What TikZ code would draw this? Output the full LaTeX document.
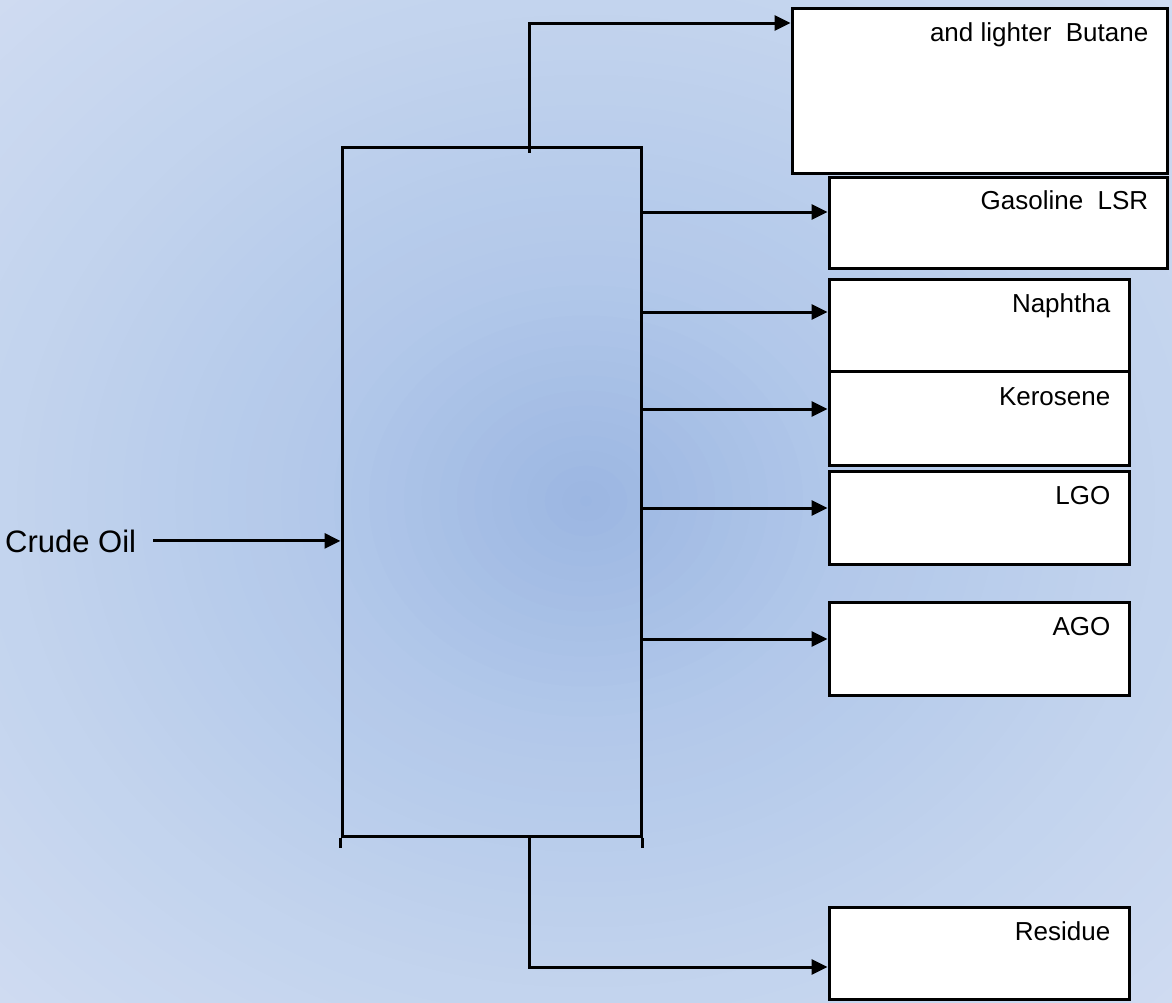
\documentclass[tikz,border=0pt]{standalone}
\usepackage{fontspec}
\setmainfont{Liberation Sans}
\usetikzlibrary{arrows.meta,calc}
\definecolor{bgF}{RGB}{208,220,242}
\tikzset{
  x=1pt, y=-1pt,
  line/.style={line width=3pt, black},
  arr/.style={line width=3pt, black, -{Triangle[length=16pt,width=15pt]}},
  prodbox/.style={draw=black, line width=3pt, fill=white, rectangle, inner sep=0pt},
  lbl/.style={anchor=base east, inner sep=0pt, font=\fontsize{26}{30}\selectfont},
  colbox/.style={draw=black, line width=3pt, rectangle, inner sep=0pt, minimum width=299pt, minimum height=689pt}
}
\begin{document}
\begin{tikzpicture}
\useasboundingbox (0,0) rectangle (1172,1002);
% background gradient
\fill[bgF] (0,0) rectangle (1172,1002);
\foreach \i in {0,...,48}{
  \pgfmathsetmacro\r{1.45-\i*0.03}
  \pgfmathtruncatemacro\Rc{\r<0.45 ? 155+23*\r/0.45 : (\r<1 ? 178+17*(\r-0.45)/0.55 : 195+13*(\r-1)/0.45)}
  \pgfmathtruncatemacro\Gc{\r<0.45 ? 182+18*\r/0.45 : (\r<1 ? 200+12*(\r-0.45)/0.55 : 212+8*(\r-1)/0.45)}
  \pgfmathtruncatemacro\Bc{\r<0.45 ? 226+8*\r/0.45 : (\r<1 ? 234+4*(\r-0.45)/0.55 : 238+4*(\r-1)/0.45)}
  \pgfmathsetmacro\rx{\r*586}
  \pgfmathsetmacro\ry{\r*501}
  \definecolor{bgtmp}{RGB}{\Rc,\Gc,\Bc}
  \fill[bgtmp] (586,501) ellipse [x radius=\rx pt, y radius=\ry pt];
}

% column
\node[colbox] (col) at (491.5,491.5) {};
\draw[line] (col.south west) -- ++(0,10);
\draw[line] (col.south east) -- ++(0,10);

% product boxes
\node[prodbox, minimum width=375pt, minimum height=165pt] (top) at (979.5,90.5) {};
\node[prodbox, minimum width=338pt, minimum height=91pt] (gas) at (998,222.5) {};
\node[prodbox, minimum width=300pt, minimum height=92pt] (nap) at (979,325) {};
\node[prodbox, minimum width=300pt, minimum height=94pt] (ker) at (979,418) {};
\node[prodbox, minimum width=300pt, minimum height=93pt] (lgo) at (979,517.5) {};
\node[prodbox, minimum width=300pt, minimum height=93pt] (ago) at (979,648.5) {};
\node[prodbox, minimum width=300pt, minimum height=92pt] (res) at (979,953) {};

% labels
\node[lbl] (ltop) at ($(top.north east)+(-20,35)$) {and lighter\ \ Butane};
\node[lbl] (lgas) at ($(gas.north east)+(-20,34)$) {Gasoline\ \ LSR};
\node[lbl] (lnap) at ($(nap.north east)+(-20,35)$) {Naphtha};
\node[lbl] (lker) at ($(ker.north east)+(-20,36)$) {Kerosene};
\node[lbl] (llgo) at ($(lgo.north east)+(-20,35)$) {LGO};
\node[lbl] (lago) at ($(ago.north east)+(-20,35)$) {AGO};
\node[lbl] (lres) at ($(res.north east)+(-20,35)$) {Residue};

% crude oil feed
\node[anchor=base west, inner sep=0pt, font=\fontsize{31}{36}\selectfont] (crude) at (5,552) {Crude Oil};
\draw[arr] ([xshift=17pt]crude.east) -- (crude.east -| col.west);

% overhead
\draw[arr] ([xshift=37.5pt,yshift=-7pt]col.north) |- ([yshift=67.5pt]top.west);
% side draws
\path ([yshift=10.5pt]gas.west) coordinate (g1)
      ([yshift=13pt]nap.west) coordinate (n1)
      ([yshift=9pt]ker.west) coordinate (k1)
      ([yshift=9.5pt]lgo.west) coordinate (l1)
      ([yshift=9.5pt]ago.west) coordinate (a1);
\draw[arr] (g1 -| col.east) -- (g1);
\draw[arr] (n1 -| col.east) -- (n1);
\draw[arr] (k1 -| col.east) -- (k1);
\draw[arr] (l1 -| col.east) -- (l1);
\draw[arr] (a1 -| col.east) -- (a1);
% bottoms
\draw[arr] ([xshift=37.5pt]col.south) |- ([yshift=-14pt]res.west);
\end{tikzpicture}
\end{document}
